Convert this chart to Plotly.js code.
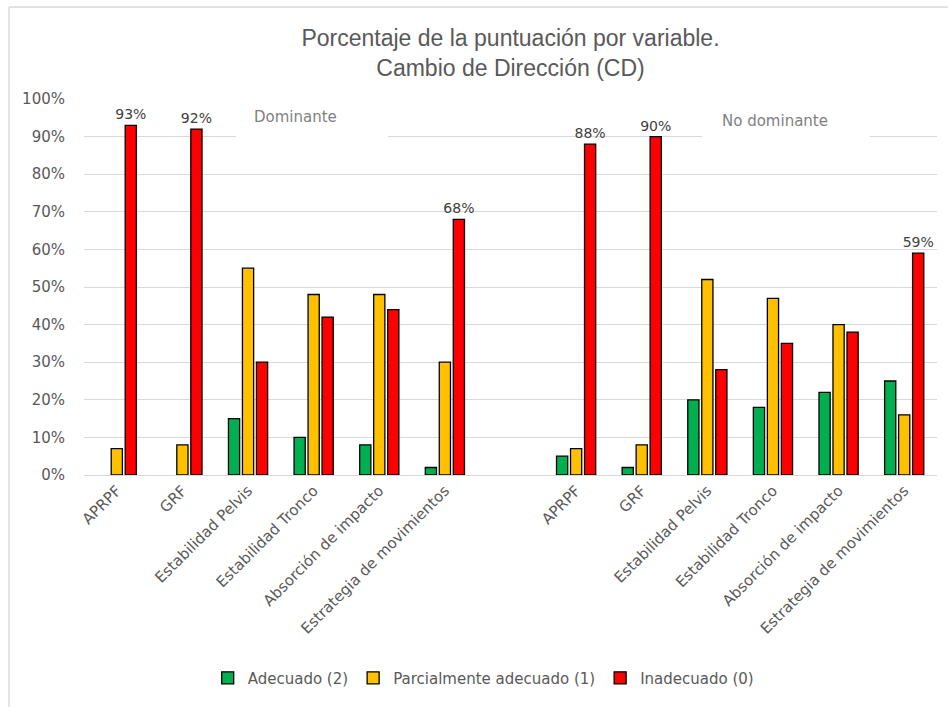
<!DOCTYPE html>
<html>
<head>
<meta charset="utf-8">
<script src="https://cdn.plot.ly/plotly-3.0.1.min.js"></script>
<style>
html,body{margin:0;padding:0;background:#fff;}
#chart{width:948px;height:707px;}
</style>
</head>
<body>
<div id="chart"></div>
<script>
// Category labels (blank slot separates the two groups)
var domLabels   = ['APRPF','GRF','Estabilidad Pelvis','Estabilidad Tronco','Absorción de impacto','Estrategia de movimientos'];
var noDomLabels = ['APRPF','GRF','Estabilidad Pelvis','Estabilidad Tronco','Absorción de impacto','Estrategia de movimientos'];
var gapLabel = [''];
var categories = domLabels.concat(gapLabel, noDomLabels);

// Series values (%), Dominante then No dominante
var adecuadoDom   = [0, 0, 15, 10, 8, 2];
var adecuadoNoDom = [5, 2, 20, 18, 22, 25];
var parcialDom    = [7, 8, 55, 48, 48, 30];
var parcialNoDom  = [7, 8, 52, 47, 40, 16];
var inadecDom     = [93, 92, 30, 42, 44, 68];
var inadecNoDom   = [88, 90, 28, 35, 38, 59];

// Which red bars carry a value label
var labeledDom   = [true, true, false, false, false, true];
var labeledNoDom = [true, true, false, false, false, true];

var seriesNames = ['Adecuado (2)', 'Parcialmente adecuado (1)', 'Inadecuado (0)'];
var yTickVals = [0,10,20,30,40,50,60,70,80,90,100];
var yTickText = yTickVals.map(function(v){ return v + '%'; });
var groupNames = ['Dominante', 'No dominante'];

var xIdx = categories.map(function(_, i){ return i; });
// join the two groups with an empty slot; zero-height bars are left undrawn (as in the original)
function join(a, b){
  return a.concat([null], b).map(function(v){ return v === 0 ? null : v; });
}

var colors = ['#00B050', '#FFC000', '#FF0000'];
var line = {color: '#000000', width: 1.3};

var redText = join(
  inadecDom.map(function(v,i){ return labeledDom[i] ? v + '%' : ''; }),
  inadecNoDom.map(function(v,i){ return labeledNoDom[i] ? v + '%' : ''; })
);

var FONT = 'DejaVu Sans, Verdana, sans-serif';

var traces = [
  {type:'bar', name: seriesNames[0], x: xIdx, y: join(adecuadoDom, adecuadoNoDom),
   marker:{color: colors[0], line: line}, hoverinfo:'y'},
  {type:'bar', name: seriesNames[1], x: xIdx, y: join(parcialDom, parcialNoDom),
   marker:{color: colors[1], line: line}, hoverinfo:'y'},
  {type:'bar', name: seriesNames[2], x: xIdx, y: join(inadecDom, inadecNoDom),
   marker:{color: colors[2], line: line}, hoverinfo:'y',
   text: redText, textposition:'outside', cliponaxis:false, constraintext:'none',
   textfont:{family: FONT, size:14, color:'#404040'}}
];

var tickFont = {family: FONT, size:15, color:'#595959'};

var layout = {
  width: 948, height: 707,
  margin: {l: 84, r: 11, t: 99, b: 232, pad: 0},
  paper_bgcolor: '#ffffff', plot_bgcolor: '#ffffff',
  barmode: 'group', bargap: 0.36, bargroupgap: 0.2,
  title: {
    text: 'Porcentaje de la puntuación por variable.<br>Cambio de Dirección (CD)',
    font: {family:'Liberation Sans, Arial, sans-serif', size: 23, color:'#595959'},
    x: 0.5, xanchor: 'center', xref: 'paper', y: 0.935, yanchor: 'top'
  },
  xaxis: {
    range: [-0.5, categories.length - 0.5],
    tickmode: 'array', tickvals: xIdx, ticktext: categories,
    tickangle: -45, tickfont: tickFont,
    showgrid: false, zeroline: false,
    showline: true, linecolor: '#d9d9d9', linewidth: 1,
    ticks: '', fixedrange: true
  },
  yaxis: {
    range: [0, 100], tickmode: 'array', tickvals: yTickVals, ticktext: yTickText,
    tickfont: tickFont,
    showgrid: true, gridcolor: '#d9d9d9', gridwidth: 1,
    zeroline: false, showline: false, ticks: '',
    ticklabelstandoff: 18, fixedrange: true
  },
  legend: {
    orientation: 'h', x: 0.468, xanchor: 'center', y: -0.54, yanchor: 'middle',
    font: {family: FONT, size: 15, color:'#595959'},
    itemwidth: 30, traceorder: 'normal'
  },
  shapes: [
    // white text boxes masking gridlines
    {type:'rect', xref:'x', yref:'y', x0: 1.82, x1: 4.13, y0: 88.5, y1: 101.5,
     fillcolor:'#ffffff', line:{width:0}, layer:'between'},
    {type:'rect', xref:'x', yref:'y', x0: 8.92, x1: 11.48, y0: 88.5, y1: 98.8,
     fillcolor:'#ffffff', line:{width:0}, layer:'between'},
    // chart area border (left & top)
    {type:'line', xref:'paper', yref:'paper', x0: -75/853, x1: -75/853, y0: 1 + 92/376, y1: -232/376,
     line:{color:'#d9d9d9', width:1.5}},
    {type:'line', xref:'paper', yref:'paper', x0: -75/853, x1: 1 + 11/853, y0: 1 + 92/376, y1: 1 + 92/376,
     line:{color:'#d9d9d9', width:1.5}}
  ],
  annotations: [
    {xref:'x', yref:'y', x: 2.73, y: 95.2, text: groupNames[0], showarrow:false,
     font:{family: FONT, size:15, color:'#7f7f7f'}},
    {xref:'x', yref:'y', x: 10.03, y: 94.2, text: groupNames[1], showarrow:false,
     font:{family: FONT, size:15, color:'#7f7f7f'}}
  ],
  showlegend: true
};

Plotly.newPlot('chart', traces, layout, {displayModeBar: false, staticPlot: true});
</script>
</body>
</html>
